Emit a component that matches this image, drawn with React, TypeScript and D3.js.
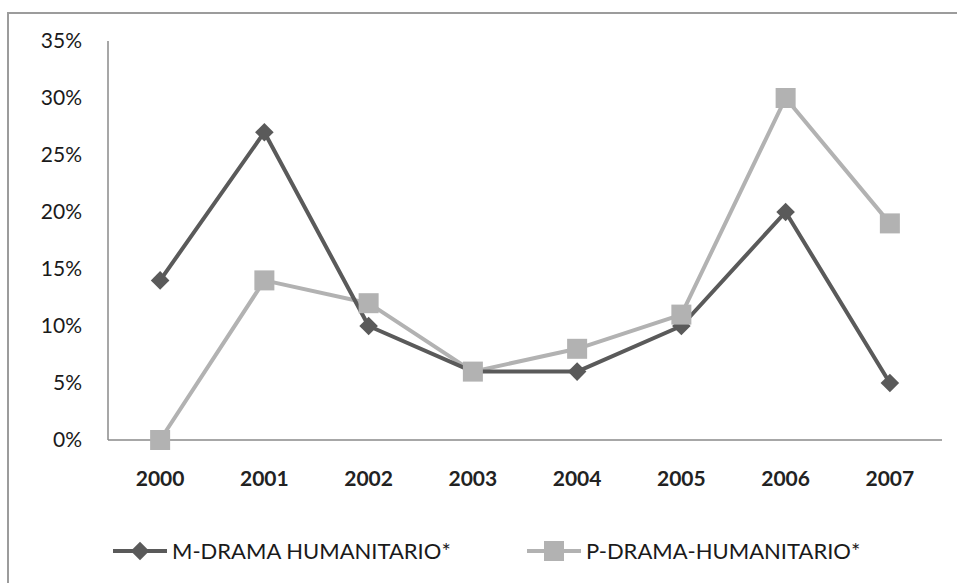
import React, { useEffect, useRef } from 'react';
import * as d3 from 'd3';

const years = ['2000', '2001', '2002', '2003', '2004', '2005', '2006', '2007'];
const mDrama = [14, 27, 10, 6, 6, 10, 20, 5];
const pDrama = [0, 14, 12, 6, 8, 11, 30, 19];
const yTicks = [0, 5, 10, 15, 20, 25, 30, 35];
const seriesNames = ['M-DRAMA HUMANITARIO*', 'P-DRAMA-HUMANITARIO*'];

export default function App() {
  const svgRef = useRef<SVGSVGElement>(null);

  useEffect(() => {
    if (!svgRef.current) return;
    const svg = d3.select(svgRef.current);
    const width = 957;
    const height = 583;
    const font = 'Lato, "Open Sans", sans-serif';
    const dark = '#5a5a5a';
    const light = '#b2b2b2';

    svg.selectAll('*').remove();
    svg.attr('width', width).attr('height', height).attr('viewBox', [0, 0, width, height]);

    // outer frame (right and bottom fall outside the picture)
    svg.append('rect')
      .attr('x', 8).attr('y', 13)
      .attr('width', 960).attr('height', 600)
      .attr('fill', '#fff')
      .attr('stroke', '#9c9c9c')
      .attr('stroke-width', 2);

    const x = d3.scaleBand().domain(years).range([108, 942]);
    const y = d3.scaleLinear().domain([0, 35]).range([440, 41]);

    // axes lines
    svg.append('line')
      .attr('x1', 108).attr('x2', 108)
      .attr('y1', y(35)).attr('y2', y(0))
      .attr('stroke', '#8a8a8a').attr('stroke-width', 1.5);
    svg.append('line')
      .attr('x1', 108).attr('x2', 942)
      .attr('y1', y(0)).attr('y2', y(0))
      .attr('stroke', '#8a8a8a').attr('stroke-width', 1.5);

    // y labels
    svg.selectAll('.ylab')
      .data(yTicks)
      .enter()
      .append('text')
      .attr('x', 82)
      .attr('y', d => y(d))
      .attr('dy', '0.35em')
      .attr('text-anchor', 'end')
      .attr('font-family', font)
      .attr('font-size', 21)
      .attr('fill', '#1a1a1a')
      .text(d => `${d}%`);

    // x labels
    svg.selectAll('.xlab')
      .data(years)
      .enter()
      .append('text')
      .attr('x', d => x(d)! + x.bandwidth() / 2)
      .attr('y', 486)
      .attr('text-anchor', 'middle')
      .attr('font-family', font)
      .attr('font-size', 21)
      .attr('font-weight', 'bold')
      .attr('fill', '#222')
      .text(d => d);

    const cx = (i: number) => x(years[i])! + x.bandwidth() / 2;
    const line = d3.line<number>()
      .x((_, i) => cx(i))
      .y(d => y(d));

    const diamond = d3.symbol().type(d3.symbolDiamond2).size(220);

    // P series first, M on top
    svg.append('path')
      .datum(pDrama)
      .attr('fill', 'none')
      .attr('stroke', light)
      .attr('stroke-width', 4)
      .attr('stroke-linejoin', 'round')
      .attr('d', line);

    svg.append('path')
      .datum(mDrama)
      .attr('fill', 'none')
      .attr('stroke', dark)
      .attr('stroke-width', 4)
      .attr('stroke-linejoin', 'round')
      .attr('d', line);

    svg.selectAll('.mpt')
      .data(mDrama)
      .enter()
      .append('path')
      .attr('transform', (d, i) => `translate(${cx(i)},${y(d)})`)
      .attr('d', diamond)
      .attr('fill', dark);

    svg.selectAll('.ppt')
      .data(pDrama)
      .enter()
      .append('rect')
      .attr('x', (_, i) => cx(i) - 10)
      .attr('y', d => y(d) - 10)
      .attr('width', 20)
      .attr('height', 20)
      .attr('fill', light);

    // legend
    const legY = 551;
    const legend = [
      { x0: 113, color: dark, name: seriesNames[0], marker: 'diamond' },
      { x0: 527, color: light, name: seriesNames[1], marker: 'square' },
    ];
    legend.forEach(l => {
      svg.append('line')
        .attr('x1', l.x0).attr('x2', l.x0 + 54)
        .attr('y1', legY).attr('y2', legY)
        .attr('stroke', l.color).attr('stroke-width', 4);
      if (l.marker === 'diamond') {
        svg.append('path')
          .attr('transform', `translate(${l.x0 + 27},${legY})`)
          .attr('d', diamond)
          .attr('fill', l.color);
      } else {
        svg.append('rect')
          .attr('x', l.x0 + 17).attr('y', legY - 10)
          .attr('width', 20).attr('height', 20)
          .attr('fill', l.color);
      }
      svg.append('text')
        .attr('x', l.x0 + 59)
        .attr('y', legY)
        .attr('dy', '0.35em')
        .attr('font-family', font)
        .attr('font-size', 22)
        .attr('fill', '#1a1a1a')
        .text(l.name);
    });
  }, []);

  return (
    <div style={{ position: 'absolute', left: 0, top: 0 }}>
      <svg ref={svgRef} style={{ display: 'block' }} />
    </div>
  );
}
